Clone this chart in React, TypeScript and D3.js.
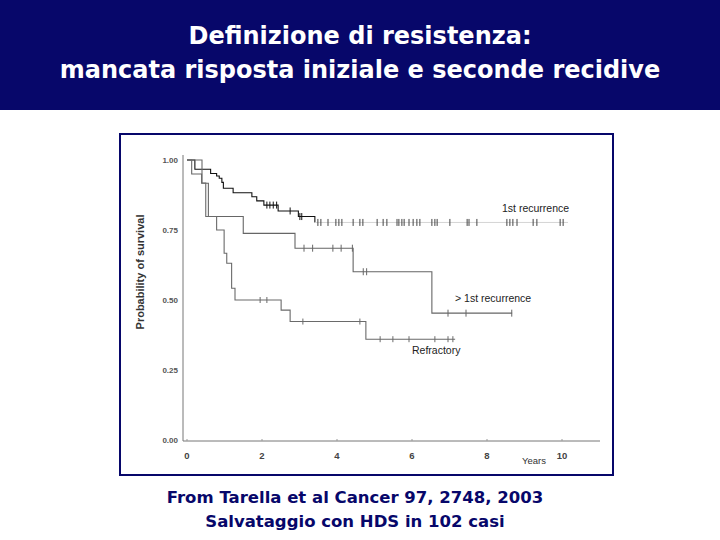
import React from 'react';
import * as d3 from 'd3';

// Kaplan-Meier curves (years, survival)
const firstRecTimes = [0, 0.21, 0.63, 0.79, 0.86, 0.93, 0.97, 1.23, 1.73, 1.86, 2.05, 2.43, 2.97, 3.41, 10.16];
const firstRecSurv = [1.0, 0.967, 0.952, 0.943, 0.935, 0.92, 0.899, 0.883, 0.869, 0.854, 0.839, 0.818, 0.798, 0.777, 0.777];
const firstRecCensor = [2.13, 2.21, 2.3, 2.39, 2.75, 3.01, 3.06, 3.49, 3.57, 3.76, 3.97, 4.05, 4.13, 4.43, 4.61, 4.69,
  5.07, 5.23, 5.33, 5.6, 5.65, 5.73, 5.79, 5.92, 6.03, 6.13, 6.21, 6.53, 6.61, 6.67, 7.01, 7.47, 7.52, 7.73,
  8.53, 8.61, 8.69, 8.8, 9.23, 9.33, 9.95, 10.03];

const laterRecTimes = [0, 0.125, 0.39, 0.57, 1.5, 2.88, 4.43, 6.53, 8.67];
const laterRecSurv = [1.0, 0.95, 0.917, 0.798, 0.738, 0.685, 0.601, 0.453, 0.453];
const laterRecCensor = [3.12, 3.35, 3.89, 4.11, 4.41, 4.7, 4.79, 6.96, 7.44, 8.66];

const refractoryTimes = [0, 0.4, 0.5, 0.79, 0.99, 1.06, 1.19, 1.28, 2.51, 2.75, 4.77, 7.15];
const refractorySurv = [1.0, 0.918, 0.798, 0.75, 0.667, 0.631, 0.542, 0.5, 0.464, 0.423, 0.36, 0.36];
const refractoryCensor = [1.95, 2.13, 3.09, 4.61, 5.15, 5.49, 5.92, 6.61, 6.96, 7.09];

const xTicks = [0, 2, 4, 6, 8, 10];
const yTicks = [0, 0.25, 0.5, 0.75, 1];

const titleLines = ['Definizione di resistenza:', 'mancata risposta iniziale e seconde recidive'];
const footerLines = ['From Tarella et al Cancer 97, 2748, 2003', 'Salvataggio con HDS in 102 casi'];

const navy = '#07076a';

// survival value at time t for a step function
function survAt(times: number[], surv: number[], t: number) {
  let s = surv[0];
  for (let i = 0; i < times.length; i++) if (times[i] <= t) s = surv[i];
  return s;
}

export default function App() {
  const x = d3.scaleLinear().domain([0, 10]).range([187, 562]);
  const y = d3.scaleLinear().domain([0, 1]).range([440, 160]);

  const line = d3.line<[number, number]>()
    .x(d => x(d[0]))
    .y(d => y(d[1]))
    .curve(d3.curveStepAfter);

  const zip = (t: number[], s: number[]) => t.map((v, i) => [v, s[i]] as [number, number]);

  // fadeAt: the scan loses the long flat tail of the top curve
  const curves = [
    { times: firstRecTimes, surv: firstRecSurv, censor: firstRecCensor, color: '#111', tick: 3.5, fadeAt: 3.41 },
    { times: laterRecTimes, surv: laterRecSurv, censor: laterRecCensor, color: '#666', tick: 3.5, fadeAt: 99 },
    { times: refractoryTimes, surv: refractorySurv, censor: refractoryCensor, color: '#6a6a6a', tick: 3, fadeAt: 99 },
  ];

  const sans = '"Liberation Sans", Arial, sans-serif';

  return (
    <svg width={720} height={540} style={{ position: 'absolute', left: 0, top: 0 }}
      fontFamily={sans}>
      <rect x={0} y={0} width={720} height={540} fill="#fff" />
      <rect x={0} y={0} width={720} height={110} fill={navy} />
      {titleLines.map((t, i) => (
        <text key={t} x={360} y={44 + i * 34} textAnchor="middle" fill="#fff"
          fontFamily='"DejaVu Sans", sans-serif' fontWeight="bold" fontSize={24}>{t}</text>
      ))}

      <rect x={120} y={134} width={493} height={341} fill="#fff" stroke={navy} strokeWidth={2} />

      {/* axes */}
      <line x1={183} x2={183} y1={155} y2={y(0) + 1} stroke="#777" strokeWidth={1} />
      <line x1={183} x2={600} y1={y(0) + 1} y2={y(0) + 1} stroke="#777" strokeWidth={1} />
      {yTicks.map(v => (
        <text key={v} x={178} y={y(v) + 3} textAnchor="end" fontSize={8} fontWeight="bold" fill="#555">
          {v.toFixed(2)}
        </text>
      ))}
      {xTicks.map(v => (
        <g key={v}>
          <line x1={x(v)} x2={x(v)} y1={y(0) + 1} y2={y(0) - 1} stroke="#999" />
          <text x={x(v)} y={459} textAnchor="middle" fontSize={9.5} fontWeight="bold" fill="#444">{v}</text>
        </g>
      ))}
      <text x={534} y={464} textAnchor="middle" fontSize={9.5} fill="#333">Years</text>
      <text transform={`translate(144,272) rotate(-90)`} textAnchor="middle" fontSize={11}
        fontWeight="bold" fill="#333">Probability of survival</text>

      {/* curves */}
      {curves.map((c, i) => {
        const pts = zip(c.times, c.surv);
        const head = pts.filter(p => p[0] <= c.fadeAt);
        const tail = pts.filter(p => p[0] >= c.fadeAt);
        return (
          <g key={i}>
            <path d={line(head) || ''} fill="none" stroke={c.color} strokeWidth={1.1} />
            {tail.length > 1 && (
              <path d={line(tail) || ''} fill="none" stroke="#d4d4d4" strokeWidth={1} />
            )}
            {c.censor.map((t, j) => {
              const yy = y(survAt(c.times, c.surv, t));
              return <line key={j} x1={x(t)} x2={x(t)} y1={yy - c.tick} y2={yy + c.tick}
                stroke={t > c.fadeAt ? '#444' : c.color} strokeWidth={1} />;
            })}
          </g>
        );
      })}

      <text x={502} y={212} fontSize={10.5} fill="#222">1st recurrence</text>
      <text x={455} y={302} fontSize={10.5} fill="#222">{'> 1st recurrence'}</text>
      <text x={412} y={354} fontSize={10.5} fill="#222">Refractory</text>

      {footerLines.map((t, i) => (
        <text key={t} x={355} y={503 + i * 24} textAnchor="middle" fill={navy}
          fontFamily='"DejaVu Sans", sans-serif' fontWeight="bold" fontSize={16.5}>{t}</text>
      ))}
    </svg>
  );
}
